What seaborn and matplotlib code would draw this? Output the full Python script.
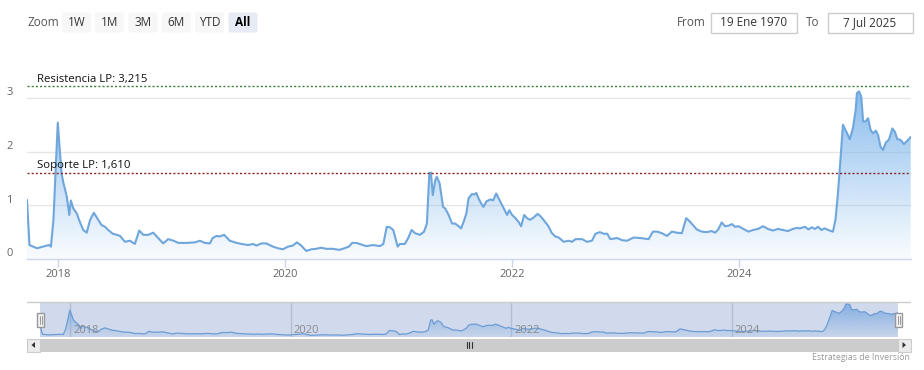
import numpy as np
import pandas as pd
import matplotlib
matplotlib.use("Agg")
import matplotlib.pyplot as plt
import matplotlib.dates as mdates
import matplotlib.colors as mcolors
from matplotlib.patches import FancyBboxPatch, Rectangle, Polygon
import seaborn as sns

# ---------------- data ----------------
dates = [
    "2017-09-23", "2017-10-01", "2017-10-25", "2017-11-14", "2017-12-03", "2017-12-09", "2017-12-17", "2017-12-31",
    "2018-01-12", "2018-01-18", "2018-01-29", "2018-02-06", "2018-02-11", "2018-02-19", "2018-03-02", "2018-03-12",
    "2018-03-23", "2018-04-03", "2018-04-14", "2018-04-26", "2018-05-07", "2018-05-21", "2018-06-01", "2018-06-11",
    "2018-06-26", "2018-07-09", "2018-07-19", "2018-08-04", "2018-08-20", "2018-09-05", "2018-09-19", "2018-10-02",
    "2018-10-18", "2018-11-03", "2018-11-19", "2018-12-05", "2018-12-21", "2019-01-07", "2019-01-23", "2019-02-19",
    "2019-03-17", "2019-04-02", "2019-04-18", "2019-05-04", "2019-05-13", "2019-05-26", "2019-06-05", "2019-06-19",
    "2019-07-07", "2019-07-29", "2019-08-14", "2019-09-04", "2019-09-20", "2019-10-01", "2019-10-17", "2019-11-02",
    "2019-11-23", "2019-12-09", "2019-12-25", "2020-01-10", "2020-01-26", "2020-02-08", "2020-02-22", "2020-03-09",
    "2020-03-25", "2020-04-10", "2020-04-26", "2020-05-12", "2020-06-02", "2020-06-24", "2020-07-10", "2020-07-24",
    "2020-08-04", "2020-08-17", "2020-09-02", "2020-09-18", "2020-09-29", "2020-10-10", "2020-11-01", "2020-11-12",
    "2020-11-23", "2020-12-03", "2020-12-14", "2020-12-28", "2021-01-04", "2021-01-20", "2021-01-31", "2021-02-11",
    "2021-02-22", "2021-03-10", "2021-03-23", "2021-04-01", "2021-04-09", "2021-04-14", "2021-04-20", "2021-04-28",
    "2021-05-03", "2021-05-12", "2021-05-23", "2021-05-30", "2021-06-10", "2021-06-21", "2021-07-01", "2021-07-12",
    "2021-07-20", "2021-07-28", "2021-08-06", "2021-08-13", "2021-08-24", "2021-08-31", "2021-09-07", "2021-09-14",
    "2021-09-22", "2021-09-30", "2021-10-09", "2021-10-22", "2021-10-31", "2021-11-10", "2021-11-23", "2021-12-04",
    "2021-12-15", "2021-12-22", "2021-12-31", "2022-01-11", "2022-01-21", "2022-01-29", "2022-02-08", "2022-02-17",
    "2022-02-27", "2022-03-10", "2022-03-23", "2022-04-01", "2022-04-11", "2022-04-27", "2022-05-08", "2022-05-19",
    "2022-05-30", "2022-06-15", "2022-07-01", "2022-07-12", "2022-07-23", "2022-08-13", "2022-08-29", "2022-09-14",
    "2022-09-25", "2022-10-09", "2022-10-22", "2022-11-02", "2022-11-12", "2022-12-04", "2022-12-20", "2023-01-05",
    "2023-01-26", "2023-02-16", "2023-03-15", "2023-03-29", "2023-04-11", "2023-04-27", "2023-05-13", "2023-05-29",
    "2023-06-14", "2023-06-30", "2023-07-14", "2023-07-27", "2023-08-17", "2023-09-02", "2023-09-18", "2023-10-04",
    "2023-10-15", "2023-10-25", "2023-11-05", "2023-11-16", "2023-11-27", "2023-12-08", "2023-12-18", "2023-12-29",
    "2024-01-14", "2024-01-30", "2024-02-14", "2024-03-01", "2024-03-17", "2024-04-02", "2024-04-18", "2024-05-04",
    "2024-05-20", "2024-06-05", "2024-06-21", "2024-07-04", "2024-07-14", "2024-07-30", "2024-08-10", "2024-08-21",
    "2024-08-31", "2024-09-10", "2024-09-21", "2024-10-01", "2024-10-17", "2024-10-28", "2024-11-05", "2024-11-13",
    "2024-11-21", "2024-11-29", "2024-12-10", "2024-12-21", "2024-12-31", "2025-01-09", "2025-01-13", "2025-01-20",
    "2025-01-27", "2025-02-02", "2025-02-10", "2025-02-18", "2025-02-26", "2025-03-06", "2025-03-15", "2025-03-22",
    "2025-03-30", "2025-04-07", "2025-04-16", "2025-04-26", "2025-05-07", "2025-05-15", "2025-05-23", "2025-06-02",
    "2025-06-13", "2025-06-24", "2025-07-05",
]
values = [
    1.10, 0.26, 0.20, 0.23, 0.26, 0.23, 0.73, 2.54,
    1.60, 1.42, 1.16, 0.82, 1.09, 0.94, 0.85, 0.69,
    0.54, 0.49, 0.73, 0.86, 0.76, 0.63, 0.60, 0.54,
    0.47, 0.45, 0.43, 0.32, 0.34, 0.28, 0.53, 0.45,
    0.45, 0.49, 0.39, 0.29, 0.37, 0.34, 0.30, 0.30,
    0.31, 0.34, 0.30, 0.29, 0.39, 0.43, 0.42, 0.45,
    0.34, 0.30, 0.28, 0.26, 0.28, 0.25, 0.29, 0.29,
    0.23, 0.20, 0.18, 0.23, 0.25, 0.31, 0.25, 0.15,
    0.18, 0.19, 0.21, 0.19, 0.19, 0.17, 0.20, 0.23,
    0.30, 0.30, 0.27, 0.24, 0.25, 0.26, 0.24, 0.28,
    0.60, 0.59, 0.54, 0.23, 0.28, 0.28, 0.39, 0.54,
    0.48, 0.45, 0.51, 0.66, 1.60, 1.61, 1.19, 1.47,
    1.53, 1.41, 0.97, 0.94, 0.82, 0.66, 0.66, 0.61,
    0.57, 0.69, 0.85, 1.13, 1.21, 1.20, 1.23, 1.13,
    1.04, 0.97, 1.07, 1.11, 1.09, 1.22, 1.07, 0.94,
    0.82, 0.91, 0.82, 0.76, 0.69, 0.61, 0.82, 0.76,
    0.73, 0.77, 0.84, 0.80, 0.73, 0.61, 0.48, 0.42,
    0.40, 0.32, 0.34, 0.32, 0.37, 0.37, 0.32, 0.34,
    0.47, 0.50, 0.47, 0.47, 0.37, 0.39, 0.35, 0.34,
    0.40, 0.39, 0.37, 0.51, 0.51, 0.48, 0.43, 0.51,
    0.49, 0.48, 0.76, 0.69, 0.55, 0.51, 0.50, 0.52,
    0.49, 0.55, 0.68, 0.61, 0.62, 0.65, 0.60, 0.61,
    0.56, 0.51, 0.54, 0.56, 0.61, 0.56, 0.53, 0.56,
    0.54, 0.52, 0.56, 0.58, 0.57, 0.60, 0.55, 0.59,
    0.56, 0.60, 0.54, 0.57, 0.53, 0.51, 0.73, 1.22,
    1.84, 2.50, 2.37, 2.23, 2.43, 2.77, 3.09, 3.12,
    3.02, 2.56, 2.56, 2.62, 2.40, 2.34, 2.39, 2.31,
    2.09, 2.03, 2.17, 2.22, 2.43, 2.37, 2.23, 2.22,
    2.14, 2.20, 2.27,
]
resistance_value = 3.215
support_value = 1.610
resistance_label = "Resistencia LP: 3,215"
support_label = "Soporte LP: 1,610"
y_ticks = [0, 1, 2, 3]
x_tick_years = ["2018", "2020", "2022", "2024"]
zoom_label = "Zoom"
zoom_buttons = ["1W", "1M", "3M", "6M", "YTD", "All"]
selected_button = "All"
from_label, from_date = "From", "19 Ene 1970"
to_label, to_date = "To", "7 Jul 2025"
credit_text = "Estrategias de Inversión"

# ---------------- style ----------------
sns.set_theme(style="white")
plt.rcParams['font.family'] = ['Open Sans', 'DejaVu Sans']

W, H = 924, 370
DPI = 100
SERIES = "#7cb5ec"
LINE = "#6fa6dc"

df = pd.DataFrame({"date": pd.to_datetime(dates), "value": values})
x0_date, x1_date = df["date"].min(), df["date"].max()
tick_dates = [pd.Timestamp(f"{y}-01-01") for y in x_tick_years]

fig = plt.figure(figsize=(W / DPI, H / DPI), dpi=DPI)
fig.patch.set_facecolor("white")


def rect(x0, y0, x1, y1):
    return [x0 / W, 1 - y1 / H, (x1 - x0) / W, (y1 - y0) / H]


def gradient_area(ax, d, vmax, a_top, a_bot):
    poly = ax.fill_between(d["date"], 0, d["value"], color="none", lw=0)
    path = poly.get_paths()[0]
    rgb = mcolors.to_rgb(SERIES)
    n = 256
    grad = np.zeros((n, 1, 4))
    grad[:, :, :3] = rgb
    grad[:, 0, 3] = np.linspace(a_bot, a_top, n)
    xn = mdates.date2num(d["date"])
    im = ax.imshow(grad, aspect="auto", origin="lower",
                   extent=[xn.min(), xn.max(), 0, vmax], zorder=1,
                   interpolation="bilinear")
    im.set_clip_path(path, ax.transData)


# ---------------- main chart ----------------
ax = fig.add_axes(rect(27, 71, 910.7, 259))
ax.set_facecolor("white")
for v in y_ticks[1:]:
    ax.axhline(v, color="#e6e6e6", lw=1, zorder=0)
gradient_area(ax, df, df["value"].max(), 0.88, 0.04)
sns.lineplot(data=df, x="date", y="value", ax=ax, color=LINE, lw=1.5, zorder=3)

ax.axhline(resistance_value, color="#3b7d3b", lw=1, ls=(0, (1.5, 1.5)), zorder=4)
ax.axhline(support_value, color="#8b2323", lw=1, ls=(0, (1.5, 1.5)), zorder=4)
for val, lab in [(resistance_value, resistance_label), (support_value, support_label)]:
    ax.annotate(lab, xy=(0, val), xycoords=("axes fraction", "data"),
                xytext=(7.2, 1.2), textcoords="offset points",
                ha="left", va="bottom", fontsize=8.2, color="#111111", zorder=5)

ax.set_xlim(x0_date, x1_date)
ax.set_ylim(0, 3.5)
ax.set_xlabel("")
ax.set_ylabel("")
ax.set_yticks([])
for v in y_ticks:
    ax.annotate(str(v), xy=(0, v), xycoords=("axes fraction", "data"),
                xytext=(-10.5, 3.6), textcoords="offset points",
                ha="right", va="center", fontsize=8, color="#666666")
ax.set_xticks(tick_dates)
ax.set_xticklabels(x_tick_years)
ax.tick_params(axis="x", direction="out", length=6, width=1, color="#ccd6eb",
               pad=1.5, labelsize=8, labelcolor="#666666", bottom=True)
for s in ["top", "right", "left"]:
    ax.spines[s].set_visible(False)
ax.spines["bottom"].set_color("#ccd6eb")
ax.spines["bottom"].set_linewidth(1)
ax.grid(False)

# ---------------- navigator ----------------
nav = fig.add_axes(rect(40, 302, 898, 337))
nav.set_facecolor("white")
for td in tick_dates:
    nav.axvline(td, color="#d8d8d8", lw=1, zorder=0)
gradient_area(nav, df, df["value"].max(), 0.85, 0.1)
sns.lineplot(data=df, x="date", y="value", ax=nav, color=LINE, lw=0.9, zorder=3)
nav.add_patch(Rectangle((0, 0), 1, 1, transform=nav.transAxes,
                        facecolor=(102 / 255, 133 / 255, 194 / 255, 0.3),
                        edgecolor="none", zorder=4))
nav.set_xlim(x0_date, x1_date)
nav.set_ylim(0, 3.3)
nav.set_xticks([])
nav.set_yticks([])
nav.set_xlabel("")
nav.set_ylabel("")
for s in nav.spines.values():
    s.set_visible(False)
for td, lab in zip(tick_dates, x_tick_years):
    nav.annotate(lab, xy=(td, 0), xycoords=("data", "axes fraction"),
                 xytext=(2.2, 5.0), textcoords="offset points",
                 ha="left", va="center", fontsize=8, color="#8a8a8a", zorder=6)

# ---------------- overlay (toolbar, scrollbar, credits) ----------------
ov = fig.add_axes([0, 0, 1, 1])
ov.set_xlim(0, W)
ov.set_ylim(H, 0)
ov.axis("off")
ov.patch.set_alpha(0)
ov.set_zorder(10)

ov.text(28, 22, zoom_label, ha="left", va="center", fontsize=8.5, color="#555555")
btn_x = [62, 95, 128.5, 162, 195, 228.5]
for bx, lab in zip(btn_x, zoom_buttons):
    sel = lab == selected_button
    ov.add_patch(FancyBboxPatch((bx, 12.5), 29, 20, boxstyle="round,pad=0,rounding_size=2",
                                facecolor="#e6ebf5" if sel else "#f7f7f7", edgecolor="none"))
    ov.text(bx + 14.5, 22.5, lab, ha="center", va="center", fontsize=8.5,
            color="#000000" if sel else "#333333", fontweight="bold" if sel else "normal")

ov.text(677, 22, from_label, ha="left", va="center", fontsize=8.5, color="#555555")
ov.add_patch(Rectangle((710.5, 12.5), 86, 20, facecolor="white", edgecolor="#cccccc", lw=1))
ov.text(753.5, 22.5, from_date, ha="center", va="center", fontsize=8.5, color="#333333")
ov.text(806, 22, to_label, ha="left", va="center", fontsize=8.5, color="#555555")
ov.add_patch(Rectangle((827.5, 12.5), 85, 20, facecolor="white", edgecolor="#cccccc", lw=1))
ov.text(870, 22.5, to_date, ha="center", va="center", fontsize=8.5, color="#333333")

# navigator outline & handles
ov.plot([27, 910], [302, 302], color="#cccccc", lw=1)
for hx in [37, 895]:
    ov.add_patch(Rectangle((hx, 313), 7, 14, facecolor="#f2f2f2", edgecolor="#999999", lw=1))
    ov.plot([hx + 2.5, hx + 2.5], [316, 324], color="#999999", lw=0.7)
    ov.plot([hx + 4.5, hx + 4.5], [316, 324], color="#999999", lw=0.7)

# scrollbar
ov.add_patch(Rectangle((27, 338.5), 883, 13, facecolor="#f2f2f2", edgecolor="none"))
ov.add_patch(Rectangle((40, 338.5), 858, 13, facecolor="#cccccc", edgecolor="none"))
for bx in [27, 898]:
    ov.add_patch(Rectangle((bx, 338.5), 12.5, 13, facecolor="#ebebeb", edgecolor="#cccccc", lw=0.8))
ov.add_patch(Polygon([[35, 342], [35, 348], [31.5, 345]], closed=True, facecolor="#333333", edgecolor="none"))
ov.add_patch(Polygon([[902.5, 342], [902.5, 348], [906, 345]], closed=True, facecolor="#333333", edgecolor="none"))
for gx in [466.5, 469, 471.5]:
    ov.plot([gx, gx], [342, 348], color="#333333", lw=0.8)

ov.text(910, 357, credit_text, ha="right", va="center", fontsize=6.3, color="#999999")

fig.savefig("out.png", dpi=DPI, facecolor="white")
